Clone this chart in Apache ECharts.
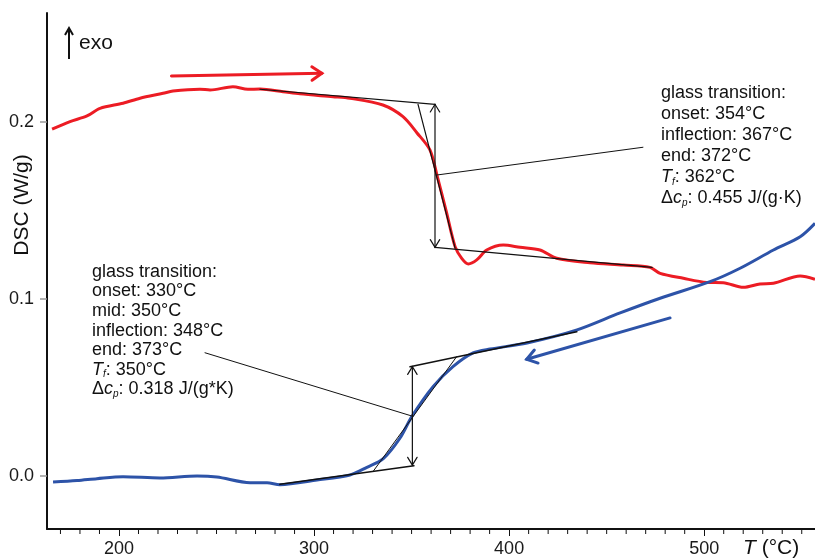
<!DOCTYPE html>
<html>
<head>
<meta charset="utf-8">
<script src="https://cdn.jsdelivr.net/npm/echarts@6/dist/echarts.min.js"></script>
<style>html,body{margin:0;padding:0;background:#fff}#c{width:815px;height:560px}</style>
</head>
<body>
<div id="c"></div>
<script>
// ---- data ----
const xTickLabels = [200, 300, 400, 500];
const xMinorTicks = [170,180,190,210,220,230,240,250,260,270,280,290,310,320,330,340,350,360,370,380,390,410,420,430,440,450,460,470,480,490,510,520,530,540,550];
const yTickLabels = [0.0, 0.1, 0.2];

// heating curve (red)
const redT = [165.7,174.9,183.6,190.3,202.1,210.8,222.6,227.7,241.5,246.7,258.4,266.1,272.3,284.1,292.8,309.7,318.4,335.3,345.6,352.8,359.4,363.0,368.0,372.3,375.7,379.1,383.4,388.5,397.0,405.6,415.8,424.4,441.5,458.5,472.2,477.4,489.3,501.3,509.8,520.1,528.6,535.5,549.2,556.8];
const redV = [0.1960,0.2003,0.2035,0.2078,0.2107,0.2135,0.2163,0.2176,0.2186,0.2182,0.2200,0.2186,0.2187,0.2172,0.2160,0.2144,0.2135,0.2097,0.2031,0.1939,0.1843,0.1701,0.1485,0.1296,0.1230,0.1198,0.1221,0.1277,0.1305,0.1292,0.1277,0.1230,0.1205,0.1192,0.1179,0.1145,0.1117,0.1094,0.1092,0.1066,0.1085,0.1089,0.1130,0.1111];

// cooling curve (blue)
const blueT = [166.2,178.5,188.7,202.1,221.0,240.0,250.2,267.2,275.9,282.5,301.5,318.4,327.1,335.5,344.1,350.1,361.0,371.2,381.5,390.2,409.2,434.8,456.9,477.4,503.0,518.4,535.5,549.2,556.8];
const blueV = [-0.0035,-0.0027,-0.0016,-0.0005,-0.0012,-0.0001,-0.0007,-0.0039,-0.0039,-0.0050,-0.0024,0.0005,0.0048,0.0097,0.0214,0.0335,0.0504,0.0617,0.0695,0.0717,0.0751,0.0825,0.0921,0.1004,0.1098,0.1174,0.1277,0.1352,0.1428];

// evaluation construction lines [T1, v1, T2, v2]
const redTangents = [[272.3,0.2186,362.0,0.2101],[353.3,0.2101,372.3,0.1288],[362.0,0.1292,473.3,0.1179]];
const redStep = [[362.0,0.2101,362.0,0.1292]];
const redLeader = [[362.9,0.1701,468.6,0.1858]];
const blueTangents = [[282.5,-0.0048,351.2,0.0057],[349.2,0.0617,434.7,0.0815]];
const blueInflTangent = [[330.4,0.0027,373.1,0.0674]];
const blueStep = [[350.4,0.0617,350.4,0.0061]];
const blueLeader = [[244.1,0.0696,350.2,0.0338]];
const redDirection = [[226.9,0.2261,304.0,0.2276]];
const blueDirection = [[482.5,0.0893,409.0,0.0659]];

const redText = 'glass transition:\nonset: 354°C\ninflection: 367°C\nend: 372°C\n{i|T}{s|f}{n|: 362°C}\n{n|Δ}{i|c}{s|p}{n|: 0.455 J/(g·K)}';
const blueText = 'glass transition:\nonset: 330°C\nmid: 350°C\ninflection: 348°C\nend: 373°C\n{i|T}{s|f}{n|: 350°C}\n{n|Δ}{i|c}{s|p}{n|: 0.318 J/(g*K)}';

// ---- chart ----
const FONT = '"Liberation Sans", Arial, sans-serif';
const INK = '#111';
const RED = '#ec1c24';
const BLUE = '#2d53a8';

function zip(a, b) { return a.map((t, i) => [t, b[i]]); }

function chevron(tip, from, len, ang) {
  const dx = tip[0] - from[0], dy = tip[1] - from[1];
  const L = Math.hypot(dx, dy) || 1;
  const ux = dx / L, uy = dy / L;
  const c = Math.cos(ang), s = Math.sin(ang);
  const w1 = [tip[0] - len * (ux * c - uy * s), tip[1] - len * (uy * c + ux * s)];
  const w2 = [tip[0] - len * (ux * c + uy * s), tip[1] - len * (uy * c - ux * s)];
  return [w1, tip, w2];
}

function segSeries(data, color, width, heads, headLen, headAng, z) {
  return {
    type: 'custom',
    z: z || 5,
    silent: true,
    encode: { x: [0, 2], y: [1, 3] },
    data: data,
    renderItem: function (params, api) {
      const p1 = api.coord([api.value(0), api.value(1)]);
      const p2 = api.coord([api.value(2), api.value(3)]);
      const st = { stroke: color, lineWidth: width, fill: null, lineCap: 'round', lineJoin: 'miter' };
      const ch = [{ type: 'line', shape: { x1: p1[0], y1: p1[1], x2: p2[0], y2: p2[1] }, style: st }];
      if (heads >= 1) ch.push({ type: 'polyline', shape: { points: chevron(p2, p1, headLen, headAng) }, style: st });
      if (heads >= 2) ch.push({ type: 'polyline', shape: { points: chevron(p1, p2, headLen, headAng) }, style: st });
      return { type: 'group', children: ch };
    }
  };
}

// minor x ticks drawn through the x scale
function minorTickSeries(values) {
  return {
    type: 'custom', z: 6, silent: true, clip: false,
    encode: { x: 0 },
    data: values.map(v => [v]),
    renderItem: function (params, api) {
      const p = api.coord([api.value(0), -0.03006]);
      return { type: 'line', shape: { x1: p[0], y1: p[1], x2: p[0], y2: p[1] + 5 }, style: { stroke: INK, lineWidth: 1 } };
    }
  };
}

const richStyles = {
  n: { fontSize: 18, fontFamily: FONT, color: INK, lineHeight: 21 },
  i: { fontSize: 18, fontFamily: FONT, color: INK, fontStyle: 'italic', lineHeight: 21 },
  s: { fontSize: 10, fontFamily: FONT, color: INK, fontStyle: 'italic', lineHeight: 10, verticalAlign: 'bottom' }
};

const chart = echarts.init(document.getElementById('c'), null, { renderer: 'canvas' });
chart.setOption({
  animation: false,
  backgroundColor: '#fff',
  grid: { left: 47, right: 0, top: 13, bottom: 31, containLabel: false },
  xAxis: {
    type: 'value', min: 163.1, max: 556.8,
    axisLine: { show: true, onZero: false, lineStyle: { color: INK, width: 2 } },
    axisTick: { show: true, inside: false, length: 7, customValues: xTickLabels, lineStyle: { color: INK, width: 1 } },
    axisLabel: { customValues: xTickLabels, margin: 11, fontSize: 18, fontFamily: FONT, color: '#1a1a1a' },
    splitLine: { show: false }
  },
  yAxis: {
    type: 'value', min: -0.03006, max: 0.26172,
    axisLine: { show: true, onZero: false, lineStyle: { color: INK, width: 2 } },
    axisTick: { show: true, length: 7, customValues: yTickLabels, lineStyle: { color: '#999', width: 1.5 } },
    axisLabel: { customValues: yTickLabels, margin: 13, fontSize: 18, fontFamily: FONT, color: '#1a1a1a',
      formatter: v => v.toFixed(1) },
    splitLine: { show: false }
  },
  series: [
    { type: 'line', data: zip(redT, redV), showSymbol: false, smooth: 0.3, lineStyle: { color: RED, width: 3 }, z: 2, silent: true },
    { type: 'line', data: zip(blueT, blueV), showSymbol: false, smooth: 0.3, lineStyle: { color: BLUE, width: 3 }, z: 2, silent: true },
    segSeries(redTangents, INK, 1.2, 0),
    segSeries(redStep, INK, 1.2, 2, 9, 0.55),
    segSeries(redLeader, INK, 1, 0),
    segSeries(blueTangents, INK, 1.6, 0),
    segSeries(blueInflTangent, INK, 1, 0),
    segSeries(blueStep, INK, 1.2, 2, 9, 0.55),
    segSeries(blueLeader, INK, 1, 0),
    segSeries(redDirection, RED, 3, 1, 12, 0.6, 6),
    segSeries(blueDirection, BLUE, 3, 1, 12, 0.6, 6),
    minorTickSeries(xMinorTicks)
  ],
  graphic: [
    { type: 'line', shape: { x1: 69, y1: 59, x2: 69, y2: 29 }, style: { stroke: INK, lineWidth: 2 } },
    { type: 'polyline', shape: { points: [[65, 35], [69, 28], [73, 35]] }, style: { stroke: INK, lineWidth: 2, fill: null } },
    { type: 'text', x: 79, y: 43, style: { text: 'exo', font: '21px ' + FONT, fill: INK, verticalAlign: 'middle', textVerticalAlign: 'middle' } },
    { type: 'text', x: 22, y: 205, rotation: Math.PI / 2,
      style: { text: 'DSC (W/g)', font: '21px ' + FONT, fill: INK, align: 'center', verticalAlign: 'middle', textAlign: 'center', textVerticalAlign: 'middle' } },
    { type: 'text', x: 743, y: 548,
      style: { text: '{i|T}{n| (°C)}', font: '21px ' + FONT, fill: INK, verticalAlign: 'middle', textVerticalAlign: 'middle',
        rich: { i: { fontSize: 21, fontFamily: FONT, fontStyle: 'italic', color: INK }, n: { fontSize: 21, fontFamily: FONT, color: INK } } } },
    { type: 'text', x: 661, y: 82.5,
      style: { text: redText, font: '18px ' + FONT, fill: INK, lineHeight: 21, verticalAlign: 'top', textVerticalAlign: 'top', rich: richStyles } },
    { type: 'text', x: 92, y: 262,
      style: { text: blueText, font: '18px ' + FONT, fill: INK, lineHeight: 19.6, verticalAlign: 'top', textVerticalAlign: 'top',
        rich: { n: Object.assign({}, richStyles.n, { lineHeight: 19.6 }), i: Object.assign({}, richStyles.i, { lineHeight: 19.6 }), s: richStyles.s } } }
  ]
});
</script>
</body>
</html>
